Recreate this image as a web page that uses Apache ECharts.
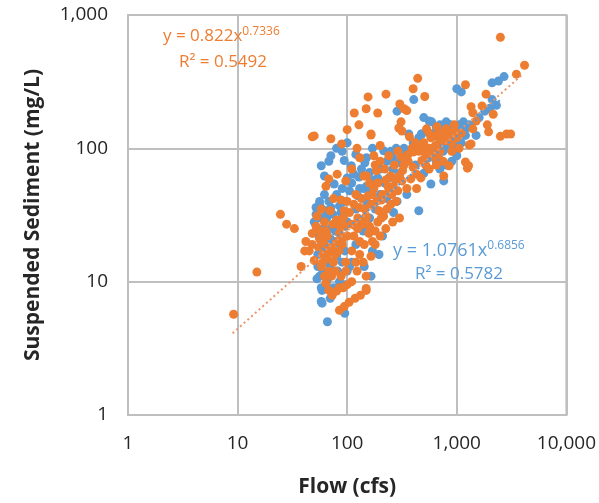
<!DOCTYPE html>
<html>
<head>
<meta charset="utf-8">
<script src="https://cdn.jsdelivr.net/npm/echarts@6/dist/echarts.min.js"></script>
<style>
  html, body { margin: 0; padding: 0; background: #fff; }
  #chart { width: 599px; height: 503px; }
</style>
</head>
<body>
<div id="chart"></div>
<script>
// flow (cfs), suspended sediment (mg/L)
const orangePoints = [
  [9.2,5.7],[15,11.8],[24.6,32],[28,27],[33,25],[38,13],
  [155,243],[226,255],[116,184],[149,198],[190,184],[128,150],[100,138],[50,124],[71,118],[165,126],[302,215],[330,198],[296,142],[89,108],[48,122],
  [2500,680],[4150,420],[3500,360],[440,335],[400,280],[510,245],[1200,300],[1850,255],[1350,205],[1400,185],[1700,208],[2150,180],[350,192],[1900,150],[1500,160],[2500,123],[2850,128],[1400,140],[1950,133],[640,123],[1300,106],[1200,79],[1250,71],[3100,128],[1350,108],[1280,74],
  [123,100],[68,59],[81,64],[97,57],[142,62],[64,52],[88,41],[94,34],[53,31],[62,28],[53,25],[80,29],[110,27],[149,31],
  [310,158],[316,135],[370,122],[620,124],[790,114],[165,128],[175,88],[240,88],[310,86],[405,94],[480,81],[620,86],[850,74],[560,70],[430,64],[380,59],[316,57],[250,62],[185,68],[150,62],[265,52],[350,50],[430,50],[760,62],[205,41],[165,38],[215,31],[150,30],
  [64,24],[85,23],[120,26],[158,23],[225,25],[143,19],[110,17],[165,15.5],[97,14],[68,12],[97,12],[123,12],[149,11],[64,9.7],[73,7.9],
  [85,6.1],[94,6.5],[104,7.0],[118,7.5],[132,7.9],[149,8.6],[149,8.9],
  [42,20],[45,17],[41,17],[48,23],[52,26],[58,35],[50,14.4],[58,13],
  [500,110],[560,100],[450,95],[600,90],[700,95],[900,110],[1000,120],[700,130],[530,140],[800,140],[950,150],[1100,130],[1050,100],[900,95],[750,80],[650,75],
  [180,75],[200,80],[220,70],[270,75],[290,95],[200,105],[130,85],[110,70],[240,48],[190,55],[120,45],[100,40],[130,36],[170,45],[280,40],[300,30],[230,35],[260,28],[190,28],[75,42],[70,34],[60,20],[70,17],[80,20],[100,22],[90,19],[130,20],[180,19],[200,22],[130,16],[75,14],[55,18],[60,16],[48,19],[110,10],[85,9],[100,9.5],[120,14],[140,14],[170,20],[250,38],[320,68],[360,80],[400,72],[470,60],[520,75],
  [56,21],[62,19],[66,22],[72,18],[78,16],[84,17],[90,21],[60,14],[66,15],[72,11],[78,12],[88,11],[92,9],[80,8.5],[68,8.6],[62,11],[57,24],[74,27],[86,26],[92,30],
  [105,33],[115,38],[125,30],[135,42],[145,35],[155,44],[160,55],[175,50],[185,40],[195,34],[210,45],[225,58],[235,52],[255,45],[275,58],[290,48],[300,62],[140,27],[160,26],[180,24],[205,30],[115,22],[125,25],[95,26],
  [330,75],[360,90],[390,100],[420,110],[470,100],[520,90],[580,120],[640,105],[680,90],[730,115],[820,125],[880,130],[950,135],[660,145],[560,130]
];
const bluePoints = [
  [285,190],[2700,345],[2400,320],[2100,310],[405,232],[1000,280],[1100,265],[2100,232],[2300,210],[500,170],[590,158],[800,158],[880,150],[1150,158],[365,128],[475,128],[980,92],[1000,88],[450,34],
  [71,88],[58,74],[62,62],[76,54],[56,40],[59,35],[94,81],[109,74],[128,61],[142,50],[85,37],[71,36],
  [480,128],[650,145],[940,135],[215,96],[250,95],[150,52],[580,54],[760,57],[350,45],[285,40],[165,47],[265,33],
  [210,22],[195,16],[80,15.5],[143,13],[165,11],[85,10],[59,8.6],[66,5.0],[59,6.9],[95,5.8],
  [56,38],[56,11],[53,10.5],[58,7.1],
  [1300,150],[1600,170],[1800,190],[2000,200],[1200,140],[1050,130],[900,120],[1100,110],[1500,125],[700,110],[600,100],[800,100],[950,105],[400,110],[450,120],[330,100],[550,85],[650,80],[700,70],[800,75],[900,80],[500,65],[420,75],
  [850,150],[900,140],[1050,150],[950,100],
  [50,28],[55,22],[60,25],[65,30],[70,25],[75,20],[80,45],[90,50],[100,60],[110,55],[120,35],[100,28],[90,14],[70,13],[65,10],[60,12],[75,9],[100,12],[110,14],[140,24],[160,30],[180,35],[150,40],[130,50],[190,60],[220,55],[240,60],[260,70],[300,65],[170,100],[150,85],[120,90],[90,95],[80,100],[100,110],[62,45],[68,80],[52,32],[54,16],[58,9],[70,7.5],
  [52,36],[57,30],[63,34],[68,40],[74,32],[79,27],[88,33],[95,40],[58,20],[64,18],[70,21],[78,24],[86,19],[95,17],[54,13],[62,14],[70,11],[82,12],[95,9.5],[105,13],
  [105,48],[115,64],[125,44],[135,70],[145,78],[160,66],[175,58],[200,70],[230,80],[260,85],[280,100],[300,78],[320,90],[200,45],[230,42],[130,28],[150,24],[170,17],[120,19],
  [560,160],[620,130],[700,150],[780,130],[850,115],[1000,135],[1100,145],[1200,125],[750,95],[680,85]
];
// trendline end points (power fits shown on chart)
const blueTrend = [[50,15.7],[2600,237]];
const orangeTrend = [[9,4.1],[4000,360]];

const BLUE = '#5b9bd5';
const ORANGE = '#ed7d31';
const FONT = '"Open Sans", Lato, sans-serif';

const chart = echarts.init(document.getElementById('chart'));

const axisCommon = {
  type: 'log',
  logBase: 10,
  axisLine: { show: true, lineStyle: { color: '#bfbfbf', width: 2 } },
  axisTick: { show: false },
  splitLine: { show: true, lineStyle: { color: '#bfbfbf', width: 2 } },
  axisLabel: {
    color: '#262626',
    fontSize: 19,
    fontFamily: FONT,
    formatter: v => Number(v).toLocaleString('en-US')
  },
  nameLocation: 'middle',
  nameTextStyle: { color: '#262626', fontSize: 21, fontWeight: 'bold', fontFamily: FONT }
};

const eqRich = (color, size) => ({
  a: { color: color, fontSize: size, fontWeight: 'normal', fontFamily: FONT },
  b: { color: color, fontSize: 12, fontWeight: 'normal', fontFamily: FONT, padding: [0, 0, 9, 0] }
});

const option = {
  animation: false,
  grid: {
    left: 128, right: 30, top: 15, bottom: 86,
    show: true, borderColor: '#bfbfbf', borderWidth: 2
  },
  title: [
    {
      text: '{a|y = 0.822x}{b|0.7336}',
      left: 158, top: 21,
      textStyle: { rich: eqRich(ORANGE, 17) }
    },
    {
      text: 'R² = 0.5492',
      left: 174, top: 49,
      textStyle: { color: ORANGE, fontSize: 17, fontWeight: 'normal', fontFamily: FONT }
    },
    {
      text: '{a|y = 1.0761x}{b|0.6856}',
      left: 388, top: 235,
      textStyle: { rich: eqRich(BLUE, 18) }
    },
    {
      text: 'R² = 0.5782',
      left: 410, top: 261,
      textStyle: { color: BLUE, fontSize: 17, fontWeight: 'normal', fontFamily: FONT }
    }
  ],
  xAxis: Object.assign({}, axisCommon, {
    min: 1, max: 10000,
    name: 'Flow (cfs)', nameGap: 62,
    axisLabel: Object.assign({}, axisCommon.axisLabel, { margin: 19 })
  }),
  yAxis: Object.assign({}, axisCommon, {
    min: 1, max: 1000,
    name: 'Suspended Sediment (mg/L)', nameGap: 84,
    axisLabel: Object.assign({}, axisCommon.axisLabel, { margin: 20 })
  }),
  series: [
    {
      type: 'scatter', data: bluePoints, symbolSize: 9,
      itemStyle: { color: BLUE, opacity: 1 }
    },
    {
      type: 'scatter', data: orangePoints, symbolSize: 9,
      itemStyle: { color: ORANGE, opacity: 1 }
    },
    {
      type: 'line', data: blueTrend, symbol: 'none',
      lineStyle: { color: BLUE, width: 2, type: [2, 3] }, z: 3
    },
    {
      type: 'line', data: orangeTrend, symbol: 'none',
      lineStyle: { color: '#e8956a', width: 2, type: [2, 3] }, z: 3
    }
  ]
};

chart.setOption(option);
</script>
</body>
</html>
